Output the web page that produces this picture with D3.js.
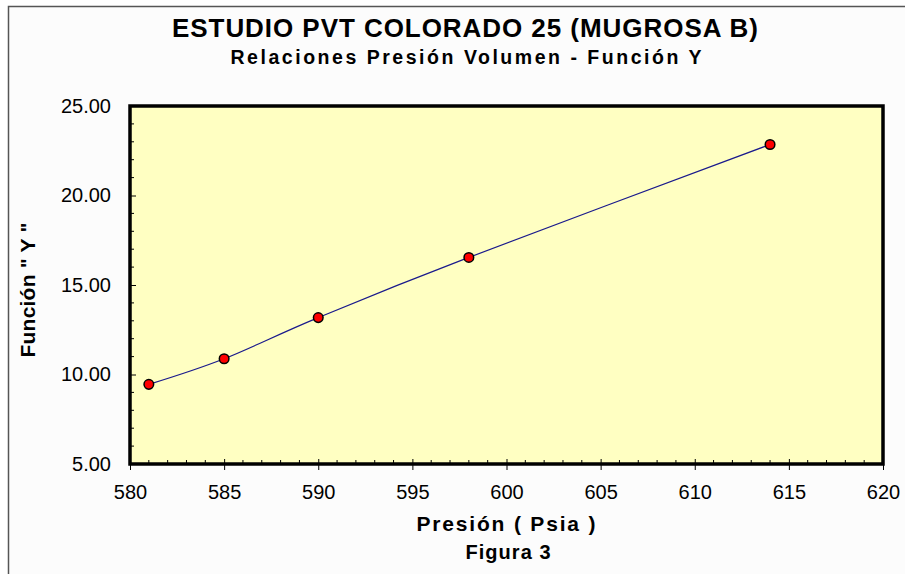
<!DOCTYPE html>
<html><head><meta charset="utf-8">
<script src="https://cdn.jsdelivr.net/npm/d3@7"></script>
<style>
html,body{margin:0;padding:0;background:#fff;}
svg{display:block;font-family:"Liberation Sans",Arial,sans-serif;}
</style></head>
<body>
<svg id="chart" width="905" height="574"></svg>
<script>
const presion = [581, 585, 590, 598, 614];
const funcionY = [9.45, 10.88, 13.18, 16.54, 22.85];
const xTicks = [580, 585, 590, 595, 600, 605, 610, 615, 620];
const yTicks = [5, 10, 15, 20, 25];
const title = "ESTUDIO PVT COLORADO 25 (MUGROSA B)";
const subtitle = "Relaciones Presión Volumen - Función Y";
const xTitle = "Presión ( Psia )";
const yTitle = "Función \" Y \"";
const caption = "Figura 3";

const svg = d3.select("#chart");
const W = 905, H = 574;
const plot = {left: 130, top: 106, right: 883, bottom: 464};

// outer chart area
svg.append("rect").attr("x", 0).attr("y", 0).attr("width", W).attr("height", H).attr("fill", "#ffffff");
svg.append("rect").attr("x", 8.5).attr("y", 6.5).attr("width", 1000).attr("height", 1000)
  .attr("fill", "#fcfcfc").attr("stroke", "#555").attr("stroke-width", 1.5);

const x = d3.scaleLinear().domain([580, 620]).range([plot.left, plot.right]);
const y = d3.scaleLinear().domain([5, 25]).range([plot.bottom, plot.top]);

// plot background
svg.append("rect").attr("x", plot.left).attr("y", plot.top)
  .attr("width", plot.right - plot.left).attr("height", plot.bottom - plot.top)
  .attr("fill", "#ffffc2");

// minor ticks inside
const xMinor = d3.range(581, 620, 1).filter(v => v % 5 !== 0);
const yMinor = d3.range(6, 25, 1).filter(v => v % 5 !== 0);
svg.append("g").selectAll("line").data(xMinor).join("line")
  .attr("x1", d => x(d)).attr("x2", d => x(d))
  .attr("y1", plot.bottom).attr("y2", plot.bottom - 4)
  .attr("stroke", "#000").attr("stroke-width", 1);
svg.append("g").selectAll("line").data(yMinor).join("line")
  .attr("y1", d => y(d)).attr("y2", d => y(d))
  .attr("x1", plot.left).attr("x2", plot.left + 4)
  .attr("stroke", "#000").attr("stroke-width", 1);

// x axis
const xAxis = d3.axisBottom(x).tickValues(xTicks).tickFormat(d3.format("d")).tickSizeInner(6).tickSizeOuter(0).tickPadding(15);
const gx = svg.append("g").attr("transform", `translate(0,${plot.bottom})`).call(xAxis);
gx.select(".domain").remove();
gx.selectAll(".tick line").attr("stroke", "#000").attr("y1", -5);
gx.selectAll("text").attr("font-size", 20).attr("fill", "#000").attr("font-family", "Liberation Sans, Arial, sans-serif");

// y axis
const yAxis = d3.axisLeft(y).tickValues(yTicks).tickFormat(d3.format(".2f")).tickSizeInner(0).tickSizeOuter(0).tickPadding(19);
const gy = svg.append("g").attr("transform", `translate(${plot.left},0)`).call(yAxis);
gy.select(".domain").remove();
gy.selectAll(".tick line").remove();
gy.selectAll("text").attr("font-size", 20).attr("fill", "#000").attr("font-family", "Liberation Sans, Arial, sans-serif");
gy.selectAll(".tick").append("line").attr("x1", 0).attr("x2", 6).attr("stroke", "#000");

// border of plot area
svg.append("rect").attr("x", plot.left).attr("y", plot.top)
  .attr("width", plot.right - plot.left).attr("height", plot.bottom - plot.top)
  .attr("fill", "none").attr("stroke", "#000").attr("stroke-width", 3.5);

// line
const pts = presion.map((p, i) => [p, funcionY[i]]);
const line = d3.line().x(d => x(d[0])).y(d => y(d[1])).curve(d3.curveCardinal.tension(0));
svg.append("path").datum(pts).attr("d", line)
  .attr("fill", "none").attr("stroke", "#1a1a8c").attr("stroke-width", 1.2);

// markers
svg.append("g").selectAll("circle").data(pts).join("circle")
  .attr("cx", d => x(d[0])).attr("cy", d => y(d[1])).attr("r", 4.8)
  .attr("fill", "#ff0000").attr("stroke", "#000").attr("stroke-width", 1.5);

// titles
svg.append("text").attr("x", 465).attr("y", 37).attr("text-anchor", "middle")
  .attr("font-size", 26).attr("font-weight", "bold")
  .attr("textLength", 586).attr("lengthAdjust", "spacing").text(title);
svg.append("text").attr("x", 466).attr("y", 64).attr("text-anchor", "middle")
  .attr("font-size", 19.5).attr("font-weight", "bold")
  .attr("textLength", 471).attr("lengthAdjust", "spacing").text(subtitle);
svg.append("text").attr("x", 506).attr("y", 531).attr("text-anchor", "middle")
  .attr("font-size", 21).attr("font-weight", "bold")
  .attr("textLength", 179).attr("lengthAdjust", "spacing").text(xTitle);
svg.append("text").attr("x", 508).attr("y", 559).attr("text-anchor", "middle")
  .attr("font-size", 20).attr("font-weight", "bold")
  .attr("textLength", 85).attr("lengthAdjust", "spacing").text(caption);
svg.append("text").attr("transform", "translate(35,290) rotate(-90)").attr("text-anchor", "middle")
  .attr("font-size", 21).attr("font-weight", "bold")
  .attr("textLength", 135).attr("lengthAdjust", "spacing").text(yTitle);
</script>
</body></html>
